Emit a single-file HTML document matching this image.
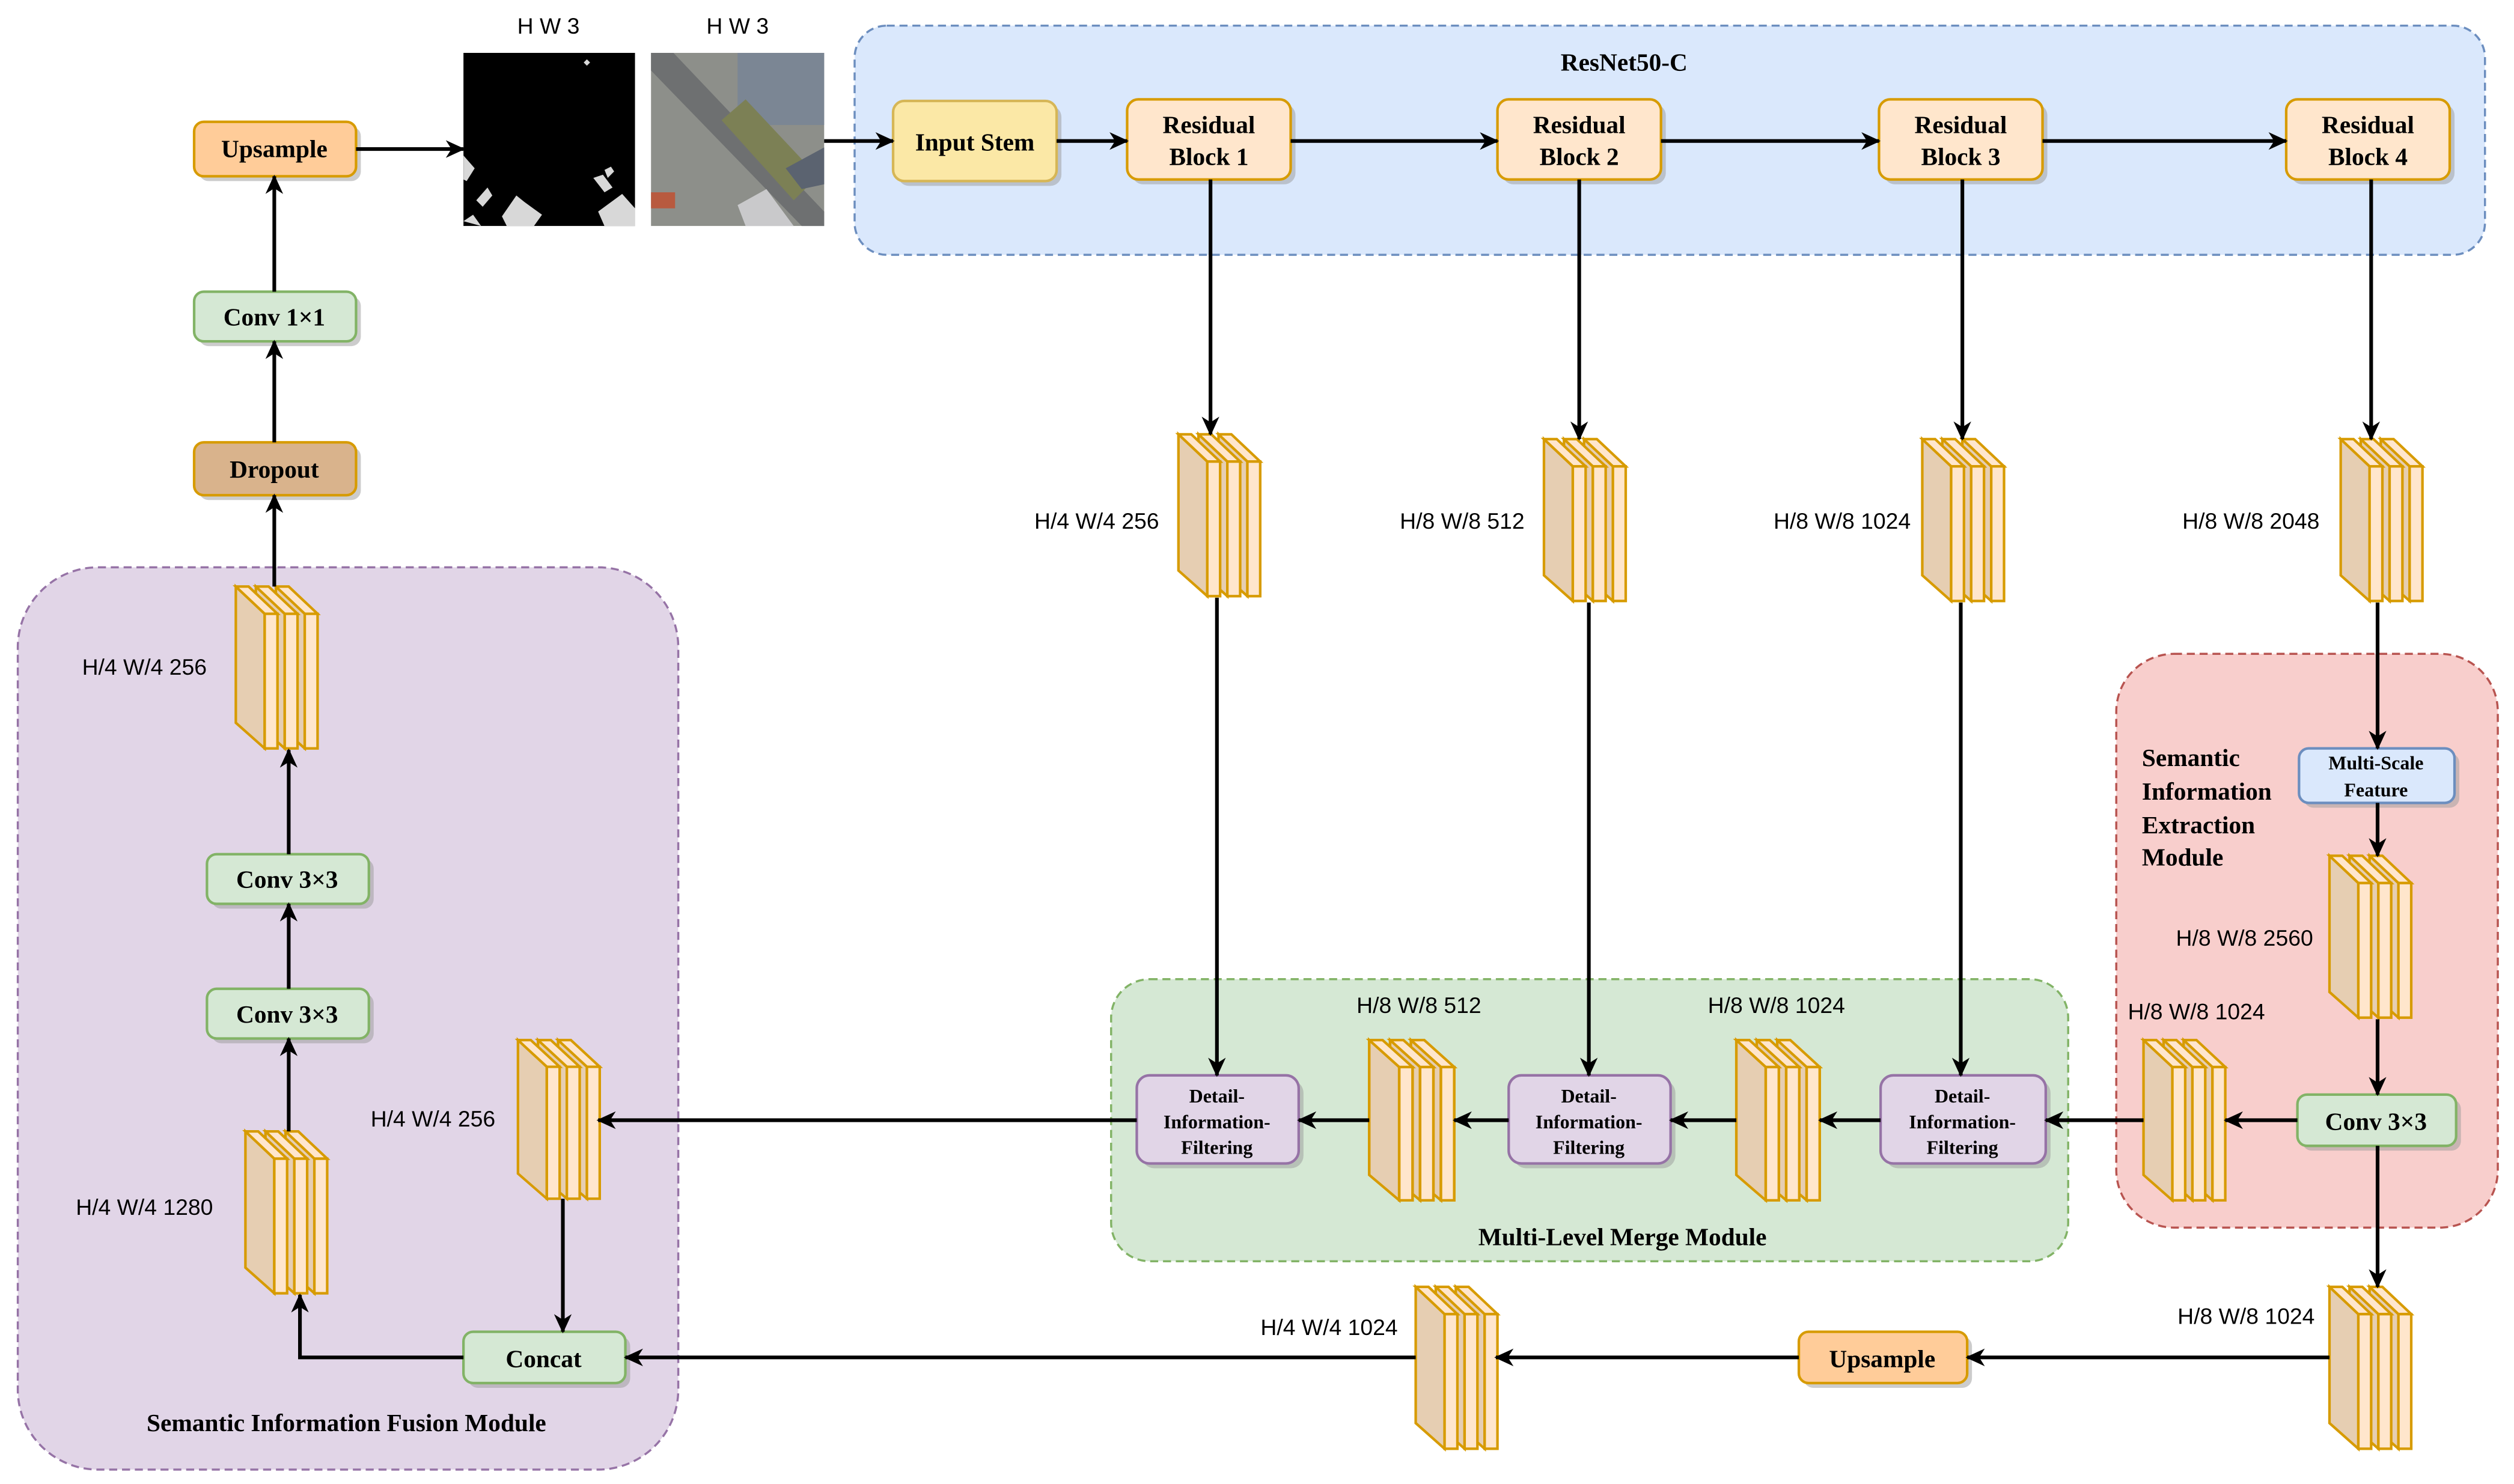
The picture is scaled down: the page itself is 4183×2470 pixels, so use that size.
<!DOCTYPE html>
<html><head><meta charset="utf-8"><style>
html,body{margin:0;padding:0;background:#fff;}
svg{display:block;}
.b{font-family:"Liberation Serif",serif;font-weight:bold;font-size:15.5px;text-anchor:middle;fill:#000;}
.l{font-family:"Liberation Sans",sans-serif;font-size:14px;text-anchor:middle;fill:#000;}
.ln{stroke:#000;stroke-width:2.3;fill:none;}
</style></head><body>
<svg width="4183" height="2470" viewBox="0 0 1568 926" xmlns="http://www.w3.org/2000/svg">
<defs>
<marker id="a" viewBox="0 0 12 11" refX="11" refY="5.5" markerWidth="12" markerHeight="11" orient="auto" markerUnits="userSpaceOnUse">
<path d="M0,0 L12,5.5 L0,11 L3.5,5.5 Z" fill="#000"/>
</marker>
<clipPath id="mc"><rect x="289" y="33" width="107" height="108"/></clipPath>
<g id="stk" stroke="#d79b00" stroke-width="1.6" stroke-linejoin="miter">
<polygon points="25,0 43,17 43,101 25,85" fill="#e6ceb2"/><polygon points="25,0 33,0 51,17 43,17" fill="#ffe6cc"/><rect x="43" y="17" width="8" height="84" fill="#ffe6cc"/>
<polygon points="12.5,0 30.5,17 30.5,101 12.5,85" fill="#e6ceb2"/><polygon points="12.5,0 20.5,0 38.5,17 30.5,17" fill="#ffe6cc"/><rect x="30.5" y="17" width="8" height="84" fill="#ffe6cc"/>
<polygon points="0,0 18,17 18,101 0,85" fill="#e6ceb2"/><polygon points="0,0 8,0 26,17 18,17" fill="#ffe6cc"/><rect x="18" y="17" width="8" height="84" fill="#ffe6cc"/>
</g>
</defs>

<rect x="533" y="16" width="1017" height="143" rx="20" fill="#dae8fc" stroke="#6c8ebf" stroke-width="1.3" stroke-dasharray="5,3"/>
<text class="b" x="1013" y="44">ResNet50-C</text>
<rect x="11" y="354" width="412" height="563" rx="50" fill="#e1d5e7" stroke="#9673a6" stroke-width="1.3" stroke-dasharray="5,3"/>
<text class="b" x="216" y="893">Semantic Information Fusion Module</text>
<rect x="693" y="611" width="597" height="176" rx="24" fill="#d5e8d4" stroke="#82b366" stroke-width="1.3" stroke-dasharray="5,3"/>
<text class="b" x="1012" y="777">Multi-Level Merge Module</text>
<rect x="1320" y="408" width="238" height="358" rx="36" fill="#f8cecc" stroke="#b85450" stroke-width="1.3" stroke-dasharray="5,3"/>
<g class="b" style="text-anchor:start">
<text x="1336" y="478">Semantic</text><text x="1336" y="499">Information</text><text x="1336" y="520">Extraction</text><text x="1336" y="540">Module</text>
</g>

<text class="l" x="342" y="21">H W 3</text>
<text class="l" x="460" y="21">H W 3</text>
<rect x="289" y="33" width="107" height="108" fill="#000"/>
<g fill="#d8d8d8" clip-path="url(#mc)">
<polygon points="289,97 296,105 291,113 289,112"/>
<polygon points="297,125 304,117 307,122 301,129"/>
<polygon points="370,111 376,109 382,117 377,120"/>
<polygon points="377,106 381,104 383,107 379,111"/>
<polygon points="373,132 388,121 396,130 396,148 387,148 380,148"/>
<polygon points="289,138 295,134 300,141"/>
<polygon points="313,135 322,122 327,126 338,134 333,141 316,141"/>
<polygon points="366,37 368,39 366,41 364,39"/>
</g>
<rect x="406" y="33" width="108" height="108" fill="#8d8f8a"/>
<polygon points="406,33 420,33 514,132 514,141 500,141 406,44" fill="#6e7071"/>
<rect x="460" y="33" width="54" height="45" fill="#7b8694"/>
<polygon points="450,75 465,62 510,110 495,125" fill="#7c8055"/>
<polygon points="460,128 478,118 495,141 465,141" fill="#c9c9cb"/>
<rect x="406" y="120" width="15" height="10" fill="#b85a3f"/>
<polygon points="490,105 514,92 514,115 500,118" fill="#5b6370"/>

<g stroke-width="1.6">
<rect x="560" y="66" width="102" height="50" rx="7" fill="#999" opacity=".5" stroke="none"/>
<rect x="557" y="63" width="102" height="50" rx="7" fill="#fbe8a6" stroke="#d6b656"/>
<rect x="706" y="65" width="102" height="50" rx="7" fill="#999" opacity=".5"/>
<rect x="703" y="62" width="102" height="50" rx="7" fill="#ffe6cc" stroke="#d79b00"/>
<rect x="937" y="65" width="102" height="50" rx="7" fill="#999" opacity=".5"/>
<rect x="934" y="62" width="102" height="50" rx="7" fill="#ffe6cc" stroke="#d79b00"/>
<rect x="1175" y="65" width="102" height="50" rx="7" fill="#999" opacity=".5"/>
<rect x="1172" y="62" width="102" height="50" rx="7" fill="#ffe6cc" stroke="#d79b00"/>
<rect x="1429" y="65" width="102" height="50" rx="7" fill="#999" opacity=".5"/>
<rect x="1426" y="62" width="102" height="50" rx="7" fill="#ffe6cc" stroke="#d79b00"/>

<rect x="124" y="79" width="101" height="34" rx="6" fill="#999" opacity=".5"/>
<rect x="121" y="76" width="101" height="34" rx="6" fill="#ffcc99" stroke="#d79b00"/>
<rect x="124" y="185" width="101" height="31" rx="6" fill="#999" opacity=".5"/>
<rect x="121" y="182" width="101" height="31" rx="6" fill="#d5e8d4" stroke="#82b366"/>
<rect x="124" y="279" width="101" height="33" rx="6" fill="#999" opacity=".5"/>
<rect x="121" y="276" width="101" height="33" rx="6" fill="#d9b38c" stroke="#d79b00"/>

<rect x="132" y="536" width="101" height="31" rx="6" fill="#999" opacity=".5"/>
<rect x="129" y="533" width="101" height="31" rx="6" fill="#d5e8d4" stroke="#82b366"/>
<rect x="132" y="620" width="101" height="31" rx="6" fill="#999" opacity=".5"/>
<rect x="129" y="617" width="101" height="31" rx="6" fill="#d5e8d4" stroke="#82b366"/>
<rect x="292" y="834" width="101" height="32" rx="6" fill="#999" opacity=".5"/>
<rect x="289" y="831" width="101" height="32" rx="6" fill="#d5e8d4" stroke="#82b366"/>

<rect x="712" y="674" width="101" height="55" rx="8" fill="#999" opacity=".5"/>
<rect x="709" y="671" width="101" height="55" rx="8" fill="#e1d5e7" stroke="#9673a6"/>
<rect x="944" y="674" width="101" height="55" rx="8" fill="#999" opacity=".5"/>
<rect x="941" y="671" width="101" height="55" rx="8" fill="#e1d5e7" stroke="#9673a6"/>
<rect x="1176" y="674" width="103" height="55" rx="8" fill="#999" opacity=".5"/>
<rect x="1173" y="671" width="103" height="55" rx="8" fill="#e1d5e7" stroke="#9673a6"/>

<rect x="1437" y="470" width="97" height="34" rx="6" fill="#999" opacity=".5"/>
<rect x="1434" y="467" width="97" height="34" rx="6" fill="#dae8fc" stroke="#6c8ebf"/>
<rect x="1436" y="686" width="99" height="32" rx="6" fill="#999" opacity=".5"/>
<rect x="1433" y="683" width="99" height="32" rx="6" fill="#d5e8d4" stroke="#82b366"/>
<rect x="1125" y="834" width="105" height="32" rx="6" fill="#999" opacity=".5"/>
<rect x="1122" y="831" width="105" height="32" rx="6" fill="#ffcc99" stroke="#d79b00"/>
</g>

<text class="b" x="608" y="94">Input Stem</text>
<text class="b" x="754" y="83">Residual</text><text class="b" x="754" y="103">Block 1</text>
<text class="b" x="985" y="83">Residual</text><text class="b" x="985" y="103">Block 2</text>
<text class="b" x="1223" y="83">Residual</text><text class="b" x="1223" y="103">Block 3</text>
<text class="b" x="1477" y="83">Residual</text><text class="b" x="1477" y="103">Block 4</text>
<text class="b" x="171" y="98">Upsample</text>
<text class="b" x="171" y="203">Conv 1×1</text>
<text class="b" x="171" y="298">Dropout</text>
<text class="b" x="179" y="554">Conv 3×3</text>
<text class="b" x="179" y="638">Conv 3×3</text>
<text class="b" x="339" y="853">Concat</text>
<text class="b" x="1482" y="705">Conv 3×3</text>
<text class="b" x="1174" y="853">Upsample</text>
<g class="b" style="font-size:12px">
<text x="759" y="688">Detail-</text><text x="759" y="704">Information-</text><text x="759" y="720">Filtering</text>
<text x="991" y="688">Detail-</text><text x="991" y="704">Information-</text><text x="991" y="720">Filtering</text>
<text x="1224" y="688">Detail-</text><text x="1224" y="704">Information-</text><text x="1224" y="720">Filtering</text>
<text x="1482" y="480">Multi-Scale</text><text x="1482" y="497">Feature</text>
</g>

<use href="#stk" transform="translate(735,271)"/>
<use href="#stk" transform="translate(963,274)"/>
<use href="#stk" transform="translate(1199,274)"/>
<use href="#stk" transform="translate(1460,274)"/>
<use href="#stk" transform="translate(1453,534)"/>
<use href="#stk" transform="translate(1337,649) scale(1,0.99)"/>
<use href="#stk" transform="translate(1453,803)"/>
<use href="#stk" transform="translate(883,803)"/>
<use href="#stk" transform="translate(854,649) scale(1.04,0.99)"/>
<use href="#stk" transform="translate(1083,649) scale(1.02,0.99)"/>
<use href="#stk" transform="translate(323,649) scale(1,0.98)"/>
<use href="#stk" transform="translate(153,706)"/>
<use href="#stk" transform="translate(147,366)"/>

<g class="l">
<text x="684" y="330">H/4 W/4 256</text>
<text x="912" y="330">H/8 W/8 512</text>
<text x="1149" y="330">H/8 W/8 1024</text>
<text x="1404" y="330">H/8 W/8 2048</text>
<text x="1400" y="590">H/8 W/8 2560</text>
<text x="1370" y="636">H/8 W/8 1024</text>
<text x="1401" y="826">H/8 W/8 1024</text>
<text x="829" y="833">H/4 W/4 1024</text>
<text x="885" y="632">H/8 W/8 512</text>
<text x="1108" y="632">H/8 W/8 1024</text>
<text x="270" y="703">H/4 W/4 256</text>
<text x="90" y="758">H/4 W/4 1280</text>
<text x="90" y="421">H/4 W/4 256</text>
</g>

<g class="ln" marker-end="url(#a)">
<path d="M222,93 H289"/>
<path d="M514,88 H557"/>
<path d="M659,88 H703"/>
<path d="M805,88 H934"/>
<path d="M1036,88 H1172"/>
<path d="M1274,88 H1426"/>
<path d="M755,112 V271"/>
<path d="M985,112 V274"/>
<path d="M1224,112 V274"/>
<path d="M1479,112 V274"/>
<path d="M759,373 V671"/>
<path d="M991,376 V671"/>
<path d="M1223,376 V671"/>
<path d="M1483,376 V467"/>
<path d="M1483,501 V534"/>
<path d="M1483,636 V683"/>
<path d="M1433,699 H1388"/>
<path d="M1337,699 H1276"/>
<path d="M1173,699 H1135"/>
<path d="M1083,699 H1042"/>
<path d="M941,699 H907"/>
<path d="M854,699 H810"/>
<path d="M709,699 H373"/>
<path d="M1483,715 V803"/>
<path d="M1453,847 H1227"/>
<path d="M1122,847 H933"/>
<path d="M883,847 H390"/>
<path d="M351,748 V831"/>
<path d="M289,847 H187 V808"/>
<path d="M180,706 V648"/>
<path d="M180,617 V564"/>
<path d="M180,533 V468"/>
<path d="M171,366 V309"/>
<path d="M171,276 V213"/>
<path d="M171,182 V110"/>
</g>
</svg>
</body></html>
